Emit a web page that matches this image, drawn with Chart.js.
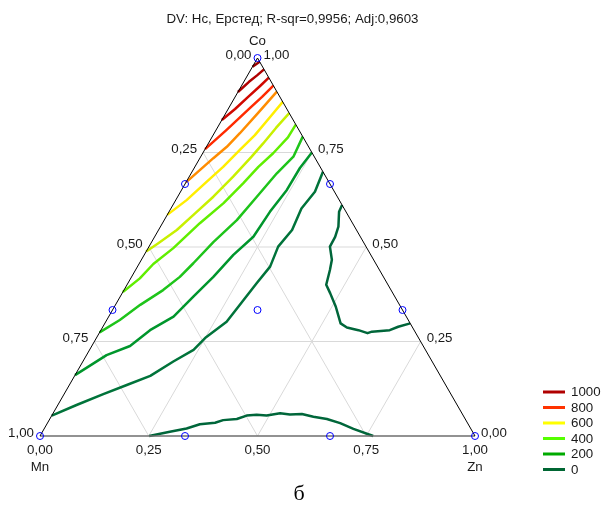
<!DOCTYPE html>
<html>
<head>
<meta charset="utf-8">
<script src="https://cdn.jsdelivr.net/npm/chart.js@4.4.0/dist/chart.umd.min.js"></script>
<style>
  html,body{margin:0;padding:0;background:#fff}
  canvas{display:block}
</style>
</head>
<body>
<canvas id="tern" width="601" height="509"></canvas>
<script>
/* ternary contour plot: Hc (Oe) over Mn-Zn-Co compositions */
const titleText = 'DV: Hc, Ерстед; R-sqr=0,9956; Adj:0,9603';
const captionText = 'б';
const tickValues = [0, 0.25, 0.5, 0.75, 1];
const tickLabels = ['0,00', '0,25', '0,50', '0,75', '1,00'];
const legendLevels = [1000, 800, 600, 400, 200, 0];
const legendColors = ['#b00000', '#ff3300', '#ffff00', '#55ff00', '#00aa00', '#006633'];

// design points, [Zn, Co] fractions (Mn = rest)
const designZn = [0, 1, 0, 1/3, 2/3, 0, 0, 2/3, 1/3, 1/3];
const designCo = [0, 0, 1, 0, 0, 1/3, 2/3, 1/3, 2/3, 1/3];

// contour lines, [Zn, Co] pairs
const c1100 = [[0,0.977],[0.010,0.990]];
const c1000 = [[0,0.910],[0.012,0.937],[0.022,0.954],[0.030,0.970]];
const c900  = [[0,0.836],[0.016,0.865],[0.030,0.897],[0.043,0.926],[0.052,0.948]];
const c800  = [[0,0.759],[0.024,0.810],[0.049,0.868],[0.062,0.897],[0.073,0.927]];
const c700  = [[0,0.671],[0.016,0.704],[0.031,0.735],[0.047,0.765],[0.059,0.801],[0.074,0.855],[0.089,0.911]];
const c600  = [[0,0.585],[0.025,0.624],[0.047,0.673],[0.065,0.712],[0.081,0.757],[0.096,0.796],[0.107,0.844],[0.116,0.884]];
const c500  = [[0,0.488],[0.017,0.510],[0.042,0.545],[0.062,0.589],[0.082,0.633],[0.101,0.686],[0.117,0.739],[0.126,0.774],[0.135,0.815],[0.146,0.854]];
const c400  = [[0,0.381],[0.021,0.417],[0.033,0.455],[0.058,0.497],[0.086,0.563],[0.114,0.616],[0.133,0.669],[0.146,0.712],[0.162,0.748],[0.175,0.790],[0.176,0.824]];
const c300  = [[0,0.274],[0.030,0.307],[0.057,0.347],[0.090,0.386],[0.111,0.421],[0.124,0.457],[0.142,0.513],[0.167,0.571],[0.182,0.633],[0.197,0.695],[0.213,0.739],[0.208,0.792]];
const c200  = [[0,0.161],[0.046,0.214],[0.088,0.238],[0.113,0.280],[0.149,0.316],[0.168,0.369],[0.188,0.421],[0.205,0.479],[0.227,0.527],[0.232,0.593],[0.242,0.651],[0.243,0.709],[0.250,0.750]];
const c100  = [[0,0.054],[0.043,0.082],[0.090,0.111],[0.132,0.135],[0.174,0.159],[0.208,0.197],[0.239,0.228],[0.250,0.259],[0.278,0.302],[0.288,0.360],[0.296,0.404],[0.305,0.448],[0.297,0.501],[0.307,0.545],[0.300,0.602],[0.309,0.646],[0.301,0.699]];
const c0loop = [[0.389,0.611],[0.391,0.593],[0.409,0.554],[0.415,0.527],[0.416,0.501],[0.438,0.466],[0.447,0.439],[0.458,0.400],[0.478,0.378],[0.509,0.342],[0.542,0.298],[0.562,0.287],[0.592,0.280],[0.617,0.272],[0.625,0.276],[0.664,0.280],[0.679,0.289],[0.702,0.298]];
const c0base = [[0.251,0],[0.293,0.011],[0.327,0.020],[0.352,0.031],[0.385,0.035],[0.400,0.042],[0.430,0.045],[0.448,0.054],[0.470,0.056],[0.494,0.054],[0.522,0.060],[0.546,0.057],[0.573,0.058],[0.603,0.051],[0.637,0.045],[0.673,0.034],[0.711,0.019],[0.766,0]];

const contours = [c1100, c1000, c900, c800, c700, c600, c500, c400, c300, c200, c100, c0loop, c0base];
const contourLevels = [1100, 1000, 900, 800, 700, 600, 500, 400, 300, 200, 100, 0, 0];
// line colour of each contour as it appears on the plot
const contourColors = ['#990000', '#b00000', '#d00800', '#ff2a00', '#ff8c00', '#ffee00', '#c8f000', '#60ee00', '#1ec41a', '#00962c', '#00733a', '#00663a', '#00663a'];

const H = Math.sqrt(3) / 2;
function toXY(zn, co){ return { x: zn + co / 2, y: co * H }; }

const datasets = [];
// grid lines at .25/.5/.75 for each component
[0.25, 0.5, 0.75].forEach(v => {
  [[toXY(0,v), toXY(1-v,v)], [toXY(v,0), toXY(v,1-v)], [toXY(1-v,0), toXY(0,1-v)]].forEach(seg => {
    datasets.push({ data: seg, showLine: true, borderColor: '#d9d9d9', borderWidth: 1, pointRadius: 0, order: 5 });
  });
});
// triangle sides
datasets.push({ data: [toXY(0,0), toXY(0,1), toXY(1,0)], showLine: true, borderColor: '#000', borderWidth: 1, pointRadius: 0, order: 3 });
datasets.push({ data: [toXY(0,0), toXY(1,0)], showLine: true, borderColor: '#6e6e6e', borderWidth: 1.6, pointRadius: 0, order: 3 });
// contour lines
contours.forEach((line, i) => {
  datasets.push({
    label: String(contourLevels[i]),
    data: line.map(p => toXY(p[0], p[1])),
    showLine: true, borderColor: contourColors[i], borderWidth: 2.5,
    borderJoinStyle: 'round', pointRadius: 0, order: 4
  });
});
// design points
datasets.push({
  data: designZn.map((z,i) => toXY(z, designCo[i])),
  showLine: false, pointRadius: 3.5, pointBorderColor: '#0000ff', pointBorderWidth: 1,
  pointBackgroundColor: 'rgba(0,0,0,0)', order: 1
});

const font = '13.3px "Liberation Sans", Arial, sans-serif';
const textPlugin = {
  id: 'ternaryText',
  afterDraw(chart){
    const ctx = chart.ctx, xs = chart.scales.x, ys = chart.scales.y;
    const px = p => [xs.getPixelForValue(p.x), ys.getPixelForValue(p.y)];
    ctx.save();
    ctx.fillStyle = '#1a1a1a';
    ctx.font = font;
    ctx.textBaseline = 'middle';

    ctx.textAlign = 'center';
    ctx.fillText(titleText, 292.5, 19.5);

    tickValues.forEach((v, i) => {
      // Zn along the bottom
      let [x, y] = px(toXY(v, 0));
      ctx.textAlign = 'center';
      ctx.fillText(tickLabels[i], x, y + 14);
      // Mn along the left side
      [x, y] = px(toXY(0, 1 - v));
      ctx.textAlign = 'right';
      ctx.fillText(tickLabels[i], x - 6, y - 3);
      // Co along the right side
      [x, y] = px(toXY(1 - v, v));
      ctx.textAlign = 'left';
      ctx.fillText(tickLabels[i], x + 6, y - 3);
    });

    ctx.textAlign = 'center';
    let [x, y] = px(toXY(0, 1));
    ctx.fillText('Co', x, y - 16.5);
    [x, y] = px(toXY(0, 0));
    ctx.fillText('Mn', x, y + 31);
    [x, y] = px(toXY(1, 0));
    ctx.fillText('Zn', x, y + 31);

    // legend
    legendLevels.forEach((l, i) => {
      const ly = 392 + i * 15.5;
      ctx.strokeStyle = legendColors[i];
      ctx.lineWidth = 3;
      ctx.beginPath(); ctx.moveTo(543, ly); ctx.lineTo(565, ly); ctx.stroke();
      ctx.textAlign = 'left';
      ctx.fillText(String(l), 571, ly + 0.5);
    });

    ctx.fillStyle = '#000';
    ctx.font = '22px "Liberation Serif", "Times New Roman", serif';
    ctx.textAlign = 'center';
    ctx.textBaseline = 'alphabetic';
    ctx.fillText(captionText, 299, 500);
    ctx.restore();
  }
};

new Chart(document.getElementById('tern'), {
  type: 'scatter',
  data: { datasets },
  options: {
    responsive: false,
    animation: false,
    devicePixelRatio: 1,
    clip: false,
    layout: { padding: { left: 40, right: 126, top: 58, bottom: 73 } },
    scales: {
      x: { type: 'linear', min: 0, max: 1, display: false },
      y: { type: 'linear', min: 0, max: H, display: false }
    },
    plugins: { legend: { display: false }, tooltip: { enabled: false } }
  },
  plugins: [textPlugin]
});
</script>
</body>
</html>
